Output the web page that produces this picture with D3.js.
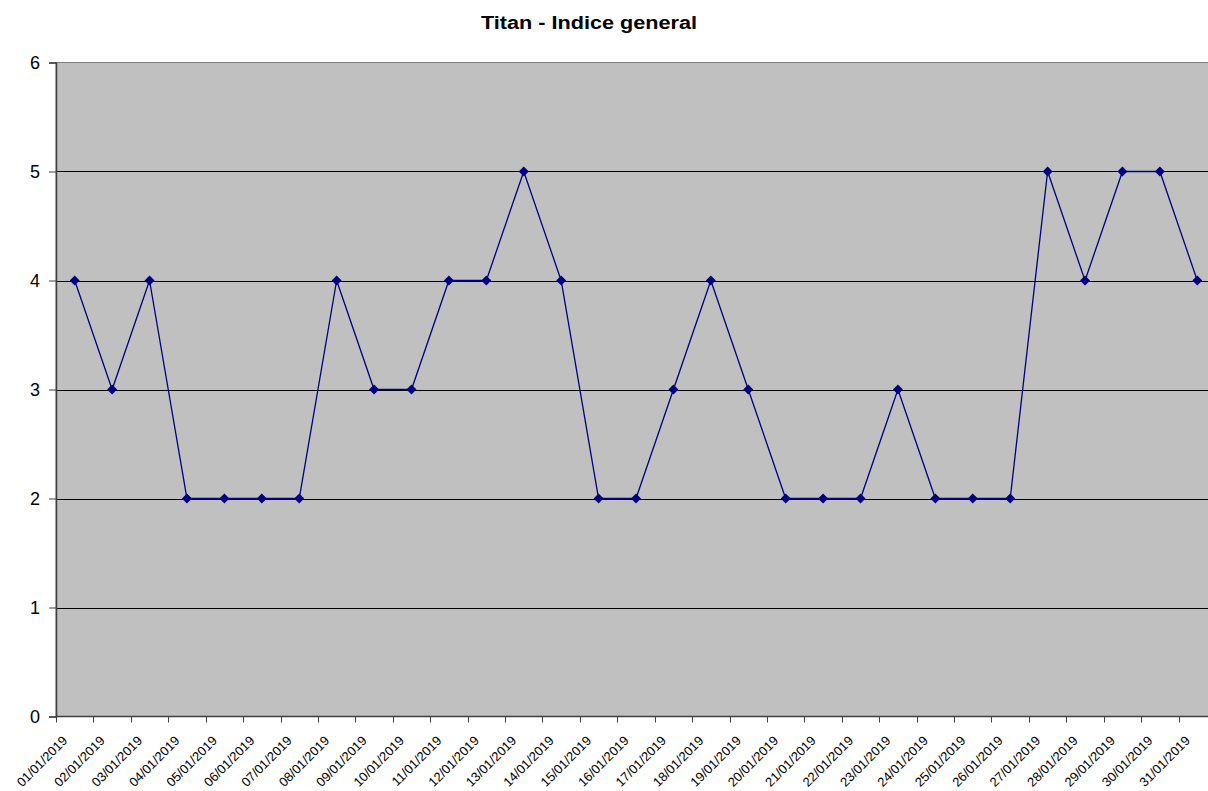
<!DOCTYPE html>
<html><head><meta charset="utf-8">
<script src="https://cdn.jsdelivr.net/npm/d3@7"></script>
<style>html,body{margin:0;padding:0;background:#fff;overflow:hidden}svg{display:block}</style>
</head><body>
<svg id="c" width="1208" height="791"></svg>
<script>
const title = "Titan - Indice general";
const dates = ["01/01/2019","02/01/2019","03/01/2019","04/01/2019","05/01/2019","06/01/2019","07/01/2019","08/01/2019","09/01/2019","10/01/2019","11/01/2019","12/01/2019","13/01/2019","14/01/2019","15/01/2019","16/01/2019","17/01/2019","18/01/2019","19/01/2019","20/01/2019","21/01/2019","22/01/2019","23/01/2019","24/01/2019","25/01/2019","26/01/2019","27/01/2019","28/01/2019","29/01/2019","30/01/2019","31/01/2019"];
const values = [4,3,4,2,2,2,2,4,3,3,4,4,5,4,2,2,3,4,3,2,2,2,3,2,2,2,5,4,5,5,4];
const yTicks = [0,1,2,3,4,5,6];

(function(){
const svg = d3.select("#c");
const pl = 56, pr = 1216, pt = 62.5, pb = 716.5;
const x = d3.scaleBand().domain(dates).range([pl, pr]).paddingInner(0).paddingOuter(0);
const y = d3.scaleLinear().domain([0, 6]).range([pb, pt]);
const font = "Liberation Sans, Arial, sans-serif";

svg.append("text").attr("x", 481).attr("y", 28.5).attr("text-anchor", "start")
  .attr("font-family", font).attr("font-weight", "bold")
  .attr("font-size", "18px").attr("fill", "#000")
  .attr("textLength", 216).attr("lengthAdjust", "spacingAndGlyphs").text(title);

svg.append("rect").attr("x", pl).attr("y", pt).attr("width", pr - pl).attr("height", pb - pt)
  .attr("fill", "#c0c0c0").attr("stroke", "#808080").attr("stroke-width", 1);

// gridlines
svg.append("g").selectAll("line").data(yTicks.filter(d => d > 0 && d < 6)).join("line")
  .attr("x1", pl).attr("x2", pr)
  .attr("y1", d => Math.round(y(d)) + 0.5).attr("y2", d => Math.round(y(d)) + 0.5)
  .attr("stroke", "#000").attr("stroke-width", 1);

// y axis
const yAxis = d3.axisLeft(y).tickValues(yTicks).tickFormat(d3.format("d")).tickSize(7).tickPadding(9);
const gy = svg.append("g").attr("transform", `translate(${pl},0)`).call(yAxis);
gy.select(".domain").attr("stroke", "#404040").attr("stroke-width", 1.5);
gy.selectAll(".tick line").attr("stroke", "#404040");
gy.selectAll("text").attr("font-family", font).attr("font-size", "18px").attr("fill", "#000");

// x axis: ticks at band boundaries
const boundaries = d3.range(dates.length + 1);
const xb = d3.scaleLinear().domain([0, dates.length]).range([pl, pr]);
const gx = svg.append("g");
gx.append("line").attr("x1", pl).attr("x2", pr).attr("y1", pb).attr("y2", pb)
  .attr("stroke", "#404040").attr("stroke-width", 1.5);
gx.selectAll("line.t").data(boundaries).join("line").attr("class", "t")
  .attr("x1", d => Math.round(xb(d)) + 0.5).attr("x2", d => Math.round(xb(d)) + 0.5)
  .attr("y1", pb).attr("y2", pb + 6).attr("stroke", "#404040").attr("stroke-width", 1);
gx.selectAll("text").data(dates).join("text")
  .attr("transform", d => `translate(${x(d) + x.bandwidth() / 2 - 6.5},${pb + 25}) rotate(-45)`)
  .attr("text-anchor", "end")
  .attr("font-family", font).attr("font-size", "13px").attr("fill", "#000")
  .text(d => d);

// line
const line = d3.line().x((d, i) => x(dates[i]) + x.bandwidth() / 2).y(d => y(d));
svg.append("path").datum(values).attr("d", line).attr("fill", "none")
  .attr("stroke", "#000080").attr("stroke-width", 1.3);

// markers
svg.append("g").selectAll("path").data(values).join("path")
  .attr("d", d3.symbol().type(d3.symbolSquare).size(50)())
  .attr("transform", (d, i) => `translate(${x(dates[i]) + x.bandwidth() / 2},${y(d)}) rotate(45)`)
  .attr("fill", "#000080");
})();
</script>
</body></html>
